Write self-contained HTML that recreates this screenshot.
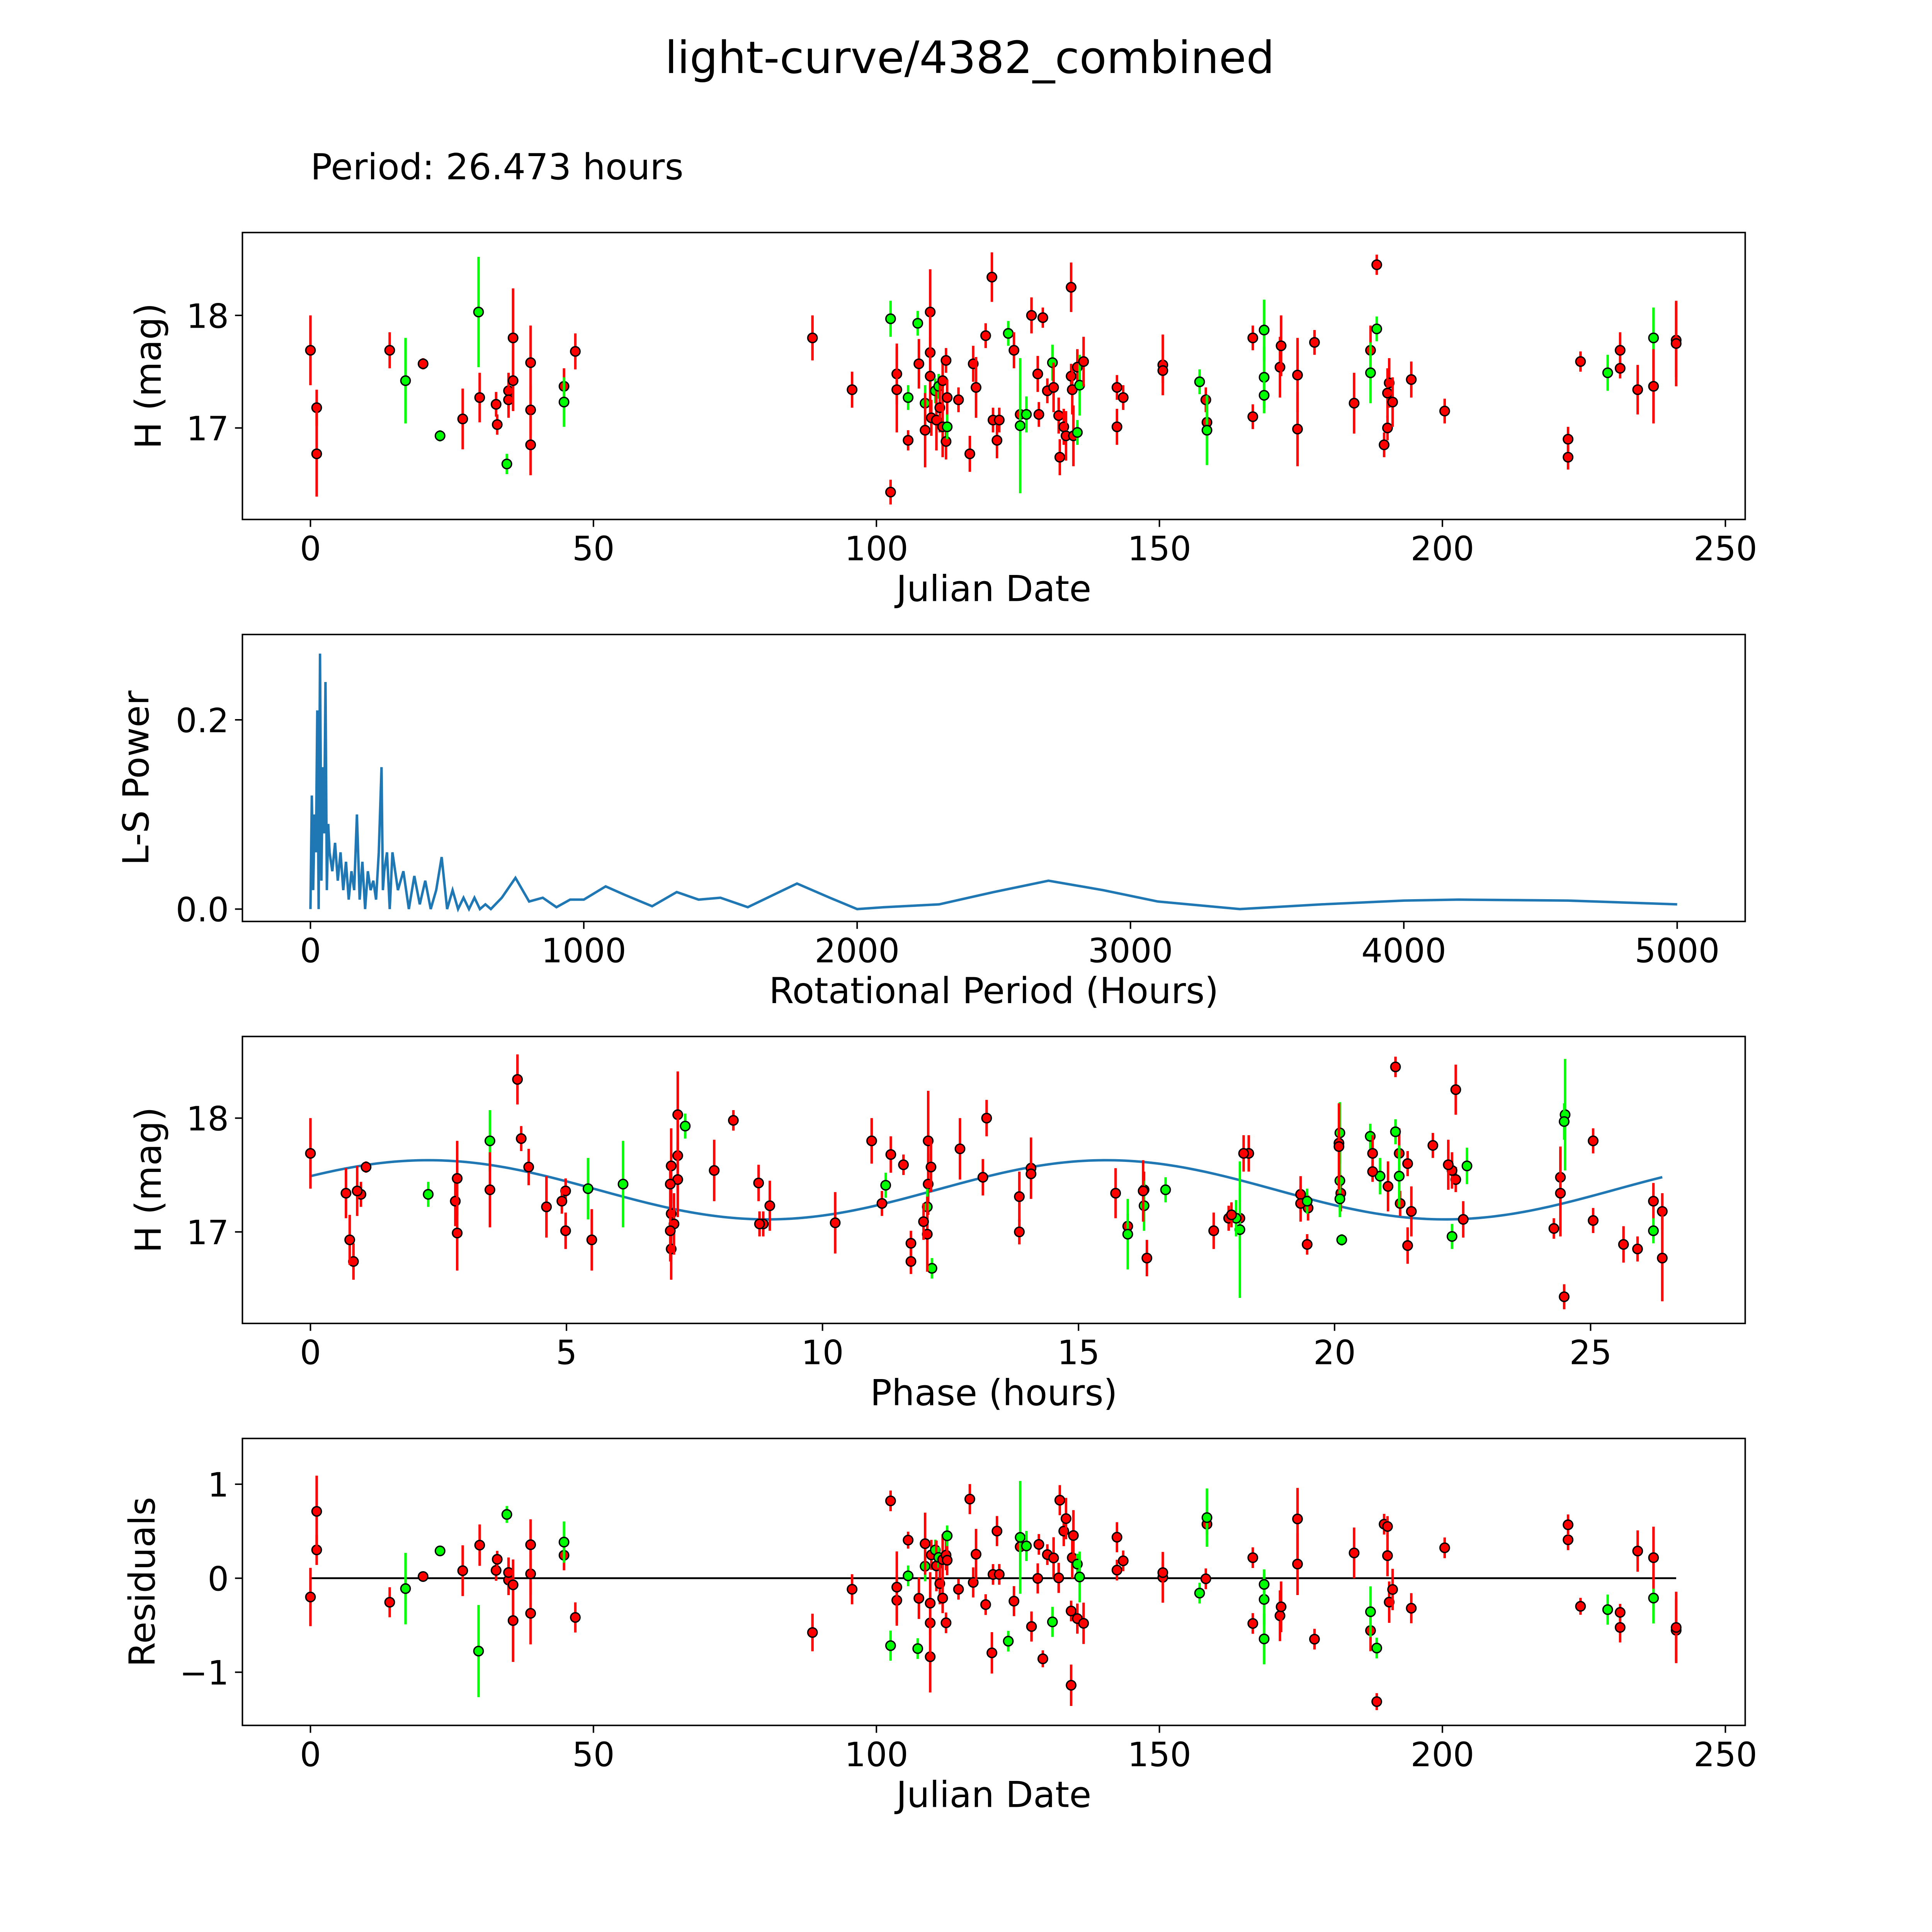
<!DOCTYPE html>
<html><head><meta charset="utf-8"><style>
html,body{margin:0;padding:0;background:#fff;overflow:hidden;width:5400px;height:5400px}
svg{display:block;position:absolute;left:0;top:0;font-family:"DejaVu Sans","Liberation Sans",sans-serif}
</style></head><body>
<svg id="chart" xmlns="http://www.w3.org/2000/svg" width="5400" height="5400" viewBox="0 0 1687 1687">
<rect width="1687" height="1687" fill="#fff"/>
<text x="784" y="59" font-size="36" text-anchor="middle">light-curve/4382_combined</text>
<text x="251" y="145" font-size="29">Period: 26.473 hours</text>
</svg>
<script>
const dates=[0,1.1,1.1,14.0,16.8,19.9,22.9,26.9,29.7,29.9,32.8,33.0,34.7,35.0,35.0,35.8,35.8,38.9,38.9,38.9,44.8,44.8,46.8,88.7,95.7,102.5,102.5,103.6,103.6,105.6,105.6,107.3,107.5,108.6,108.6,109.5,109.5,109.5,109.7,110.4,110.6,111.0,111.2,111.7,111.7,112.3,112.3,112.5,112.5,114.5,116.5,117.1,117.6,119.3,120.4,120.6,121.3,121.7,123.3,124.3,125.4,125.4,126.5,127.4,128.5,128.7,129.4,130.2,131.1,131.3,132.2,132.4,133.1,133.5,134.4,134.4,134.6,134.8,135.5,135.5,135.9,136.6,142.5,142.5,143.6,150.6,150.6,157.1,158.2,158.4,158.4,166.5,166.5,168.5,168.5,168.5,171.3,171.5,174.4,174.4,177.4,184.4,187.3,187.3,188.4,188.4,189.7,190.3,190.6,190.3,191.2,194.5,200.4,222.2,222.2,224.4,229.2,231.4,231.4,234.5,237.3,237.3,241.3,241.3];
const mags=[17.69,17.18,16.77,17.69,17.42,17.57,16.93,17.08,18.03,17.27,17.21,17.03,16.68,17.33,17.25,17.80,17.42,17.58,17.16,16.85,17.37,17.23,17.68,17.80,17.34,16.43,17.97,17.48,17.34,17.27,16.89,17.93,17.57,17.22,16.98,18.03,17.67,17.46,17.09,17.33,17.07,17.37,17.18,17.42,17.01,17.60,16.88,17.27,17.01,17.25,16.77,17.57,17.36,17.82,18.34,17.07,16.89,17.07,17.84,17.69,17.12,17.02,17.12,18.0,17.48,17.12,17.98,17.33,17.58,17.36,17.11,16.74,17.01,16.93,18.25,17.46,17.34,16.93,16.96,17.54,17.38,17.59,17.36,17.01,17.27,17.56,17.51,17.41,17.25,17.05,16.98,17.10,17.80,17.87,17.45,17.29,17.54,17.73,16.99,17.47,17.76,17.22,17.69,17.49,18.45,17.88,16.85,17.0,17.40,17.31,17.23,17.43,17.15,16.90,16.74,17.59,17.49,17.69,17.53,17.34,17.80,17.37,17.78,17.75];
const errs=[.31,.16,.38,.16,.38,.05,.05,.27,.49,.22,.11,.09,.09,.16,.16,.44,.27,.33,.22,.27,.16,.22,.16,.2,.16,.11,.16,.27,.38,.11,.09,.11,.22,.16,.33,.38,.33,.33,.16,.11,.27,.11,.22,.16,.27,.11,.16,.16,.11,.11,.16,.16,.27,.11,.22,.11,.16,.11,.11,.16,.27,.6,.16,.16,.16,.11,.09,.11,.16,.22,.16,.16,.16,.22,.22,.11,.22,.27,.11,.16,.27,.22,.11,.16,.11,.27,.11,.11,.11,.11,.31,.11,.11,.27,.27,.16,.27,.27,.33,.33,.11,.27,.22,.27,.09,.11,.11,.11,.22,.22,.22,.16,.11,.11,.11,.09,.16,.16,.09,.22,.27,.33,.33,.38];
const colors="rrrrgrgrgrrrgrrrrrrrrgrrrrgrrgrgrgrrrrrgrgrrrrrrgrrrrrrrrrgrrggrrrrrgrrrrrrrrrgrgrrrrrrgrrgrrgggrrrrrrrgrgrrrrrrrrrrgrrrgrrrrr".split("");
const periodHours=26.473;
const lsPeriods=[0,5,10,15,20,25,30,35,40,45,50,55,60,65,70,80,90,100,110,120,130,140,150,160,170,180,190,200,210,220,230,240,250,260,265,270,280,290,300,320,340,360,380,400,420,440,460,480,500,520,540,560,580,600,620,640,660,700,750,800,850,900,950,1000,1080,1150,1250,1340,1420,1500,1600,1780,1900,2000,2100,2300,2500,2700,2900,3100,3400,3700,4000,4200,4600,5000];
const lsPowers=[0,0.12,0.02,0.10,0.06,0.21,0.0,0.27,0.03,0.15,0.08,0.24,0.02,0.09,0.06,0.04,0.07,0.03,0.06,0.02,0.05,0.01,0.04,0.02,0.10,0.01,0.05,0.0,0.04,0.02,0.03,0.01,0.06,0.15,0.02,0.04,0.06,0.0,0.06,0.02,0.04,0.0,0.035,0.005,0.03,0.0,0.02,0.055,0.0,0.02,0.0,0.012,0.0,0.012,0.0,0.005,0.0,0.012,0.033,0.008,0.012,0.002,0.01,0.01,0.024,0.015,0.003,0.018,0.01,0.012,0.002,0.027,0.012,0.0,0.002,0.005,0.018,0.03,0.02,0.008,0.0,0.005,0.009,0.01,0.009,0.005];
const modelMean=17.37, modelAmp=0.26, modelPeak=2.3, modelHalf=13.24;
const jdTicks=[0,50,100,150,200,250];
const lsXTicks=[0,1000,2000,3000,4000,5000];
const phaseTicks=[0,5,10,15,20,25];

const NS="http://www.w3.org/2000/svg";
const svg=document.getElementById('chart');
function mk(tag,attrs,parent){const e=document.createElementNS(NS,tag);for(const k in attrs)e.setAttribute(k,attrs[k]);(parent||svg).appendChild(e);return e;}
function model(p){return modelMean+modelAmp*Math.cos(2*Math.PI*(p-modelPeak)/modelHalf);}
const L=196,R=1411;
function lin(d0,p0,d1,p1){return v=>p0+(v-d0)*(p1-p0)/(d1-d0);}

function axes(name,top,bot,xs,ys,xt,yt,xlabel,ylabel,ylx,fmtY){
  const g=mk('g',{});
  
  
  const box=mk('rect',{x:L,y:top,width:R-L,height:bot-top,fill:'none',stroke:'#000','stroke-width':1.2},g);
  
  
  xt.forEach(v=>{const x=xs(v);mk('line',{x1:x,x2:x,y1:bot,y2:bot+6,stroke:'#000','stroke-width':1.2},g);
    const t=mk('text',{x:x,y:bot+33,'font-size':27,'text-anchor':'middle'},g);t.textContent=v;
    
    });
  yt.forEach(v=>{const y=ys(v);mk('line',{x1:L-6,x2:L,y1:y,y2:y,stroke:'#000','stroke-width':1.2},g);
    const t=mk('text',{x:L-11,y:y+10,'font-size':27,'text-anchor':'end'},g);t.textContent=fmtY?fmtY(v):v;
    
    });
  const xl=mk('text',{x:(L+R)/2,y:bot+66,'font-size':29,'text-anchor':'middle'},g);xl.textContent=xlabel;
  
  
  const cy=(top+bot)/2;
  const yl=mk('text',{x:ylx,y:cy,'font-size':29,'text-anchor':'middle',transform:`rotate(-90 ${ylx} ${cy})`},g);yl.textContent=ylabel;
  
  
  return g;
}
function points(g,xv,yv,ev,ys){
  const pts=mk('g',{},g);
  
  
  for(let i=0;i<xv.length;i++){
    const c=colors[i]==='g'?'#00ff00':'#ff0000';
    const x=xv[i],y=ys(yv[i]);
    const y1=ys(yv[i]+ev[i]),y2=ys(yv[i]-ev[i]);
    mk('line',{x1:x,x2:x,y1:y1,y2:y2,stroke:c,'stroke-width':2},pts);
    const ci=mk('circle',{cx:x,cy:y,r:3.8,fill:c,stroke:'#000','stroke-width':1.1},pts);
    
    
  }
}
const jx=lin(0,251,250,1395);
const m1=lin(17,346,18,255);
const g1=axes('light-curve-panel',188,420,jx,m1,jdTicks,[17,18],'Julian Date','H (mag)',130);
points(g1,dates.map(jx),mags,errs,m1);
const px=lin(0,251,5000,1356);
const py=lin(0,735,0.2,582);
const g2=axes('periodogram-panel',513,745,px,py,lsXTicks,[0,0.2],'Rotational Period (Hours)','L-S Power',120,v=>v.toFixed(1));
const pl=mk('polyline',{points:lsPeriods.map((p,i)=>px(p)+','+py(lsPowers[i])).join(' '),fill:'none',stroke:'#1f77b4','stroke-width':2},g2);


const phx=lin(0,251,25,1286);
const m3=lin(17,996,18,904);
const g3=axes('phase-panel',838,1070,phx,m3,phaseTicks,[17,18],'Phase (hours)','H (mag)',130);
const phases=dates.map(d=>(d*24)%periodHours);
const mp=[];for(let p=0;p<=periodHours;p+=0.1)mp.push(phx(p)+','+m3(model(p)));
const ml=mk('polyline',{points:mp.join(' '),fill:'none',stroke:'#1f77b4','stroke-width':2},g3);


points(g3,phases.map(phx),mags,errs,m3);
const ry=lin(0,1276,1,1200);
const g4=axes('residuals-panel',1163,1395,jx,ry,jdTicks,[-1,0,1],'Julian Date','Residuals',125,v=>v<0?'\u2212'+(-v):v);
const zl=mk('line',{x1:jx(0),x2:jx(241.3),y1:ry(0),y2:ry(0),stroke:'#000','stroke-width':1.5},g4);


const resid=mags.map((m,i)=>model(phases[i])-m);
points(g4,dates.map(jx),resid,errs,ry);
</script>
</body></html>
